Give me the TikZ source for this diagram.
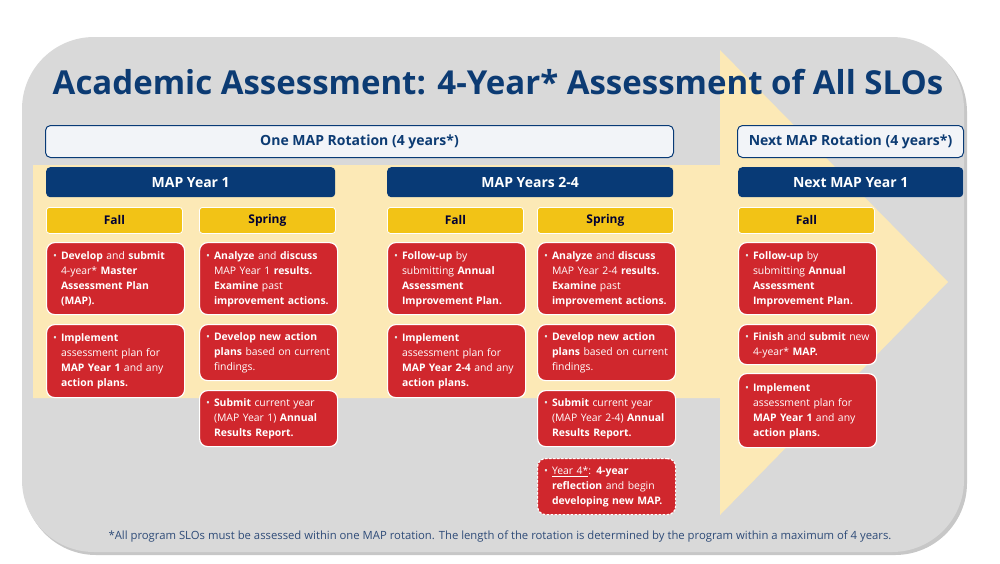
\documentclass[tikz,border=0pt]{standalone}
\usepackage{fontspec}
\setmainfont{Open Sans}
\usetikzlibrary{positioning}

\definecolor{bggray}{HTML}{D9D9D9}
\definecolor{arrowcream}{HTML}{FCE9B6}
\definecolor{mapnavy}{HTML}{083A76}
\definecolor{titleblue}{HTML}{0C3B73}
\definecolor{seasongold}{HTML}{F2C316}
\definecolor{taskred}{HTML}{D0272D}
\definecolor{rotfill}{HTML}{F2F4F8}
\definecolor{notegray}{HTML}{2E4B78}

% bullet line block
\newcommand{\bul}[1]{\begin{tabular}{@{}l@{\hspace{4pt}}l@{}}%
  \raisebox{0pt}[0pt][0pt]{\begin{tabular}[t]{@{}l@{}}{\color{white!80!gray}\textbullet}\end{tabular}}%
  &\begin{tabular}[t]{@{}l@{}}#1\end{tabular}\end{tabular}}

\tikzset{
  rotbox/.style={draw=mapnavy, line width=1pt, fill=rotfill, rounded corners=5pt,
    anchor=north west, minimum height=32pt, text=titleblue,
    font=\fontsize{14}{16}\selectfont\bfseries},
  yearbox/.style={fill=mapnavy, rounded corners=4pt, anchor=north west,
    minimum height=30pt, text=white, font=\fontsize{14}{16}\selectfont\bfseries},
  seasonbox/.style={fill=seasongold, draw=white, line width=0.8pt, rounded corners=3pt,
    anchor=north west, minimum width=136pt, minimum height=26pt, text=black!80!blue,
    font=\fontsize{12}{14}\selectfont\bfseries},
  redbox/.style={fill=taskred, draw=white, line width=1.2pt, rounded corners=8pt,
    anchor=north west, text width=125pt, inner xsep=6.5pt, inner ysep=2pt, align=left,
    text=white, font=\fontsize{10.4}{15}\selectfont},
  lastbox/.style={redbox, dashed, dash pattern=on 2.5pt off 1.5pt}
}

\begin{document}
\begin{tikzpicture}[x=1pt, y=-1pt]
\useasboundingbox (0,0) rectangle (1000,563);

%% background panel and arrow
\fill[black!22, rounded corners=72pt] (24,40) rectangle (967,555);
\fill[bggray, rounded corners=72pt] (22,37) rectangle (964,552);
\fill[arrowcream] (33,165) -- (720,165) -- (720,50) -- (948,282) -- (720,515)
  -- (720,398) -- (33,398) -- cycle;

\node[text=titleblue, font=\fontsize{33}{40}\selectfont\bfseries] (title) at (498,82)
  {Academic Assessment: 4-Year* Assessment of All SLOs};

%% rotations
\node[rotbox, minimum width=628pt] (rot) at (45,125) {One MAP Rotation (4 years*)};
\node[rotbox, minimum width=226pt] (nextrot) at (737,125) {Next MAP Rotation (4 years*)};

%% years
\node[yearbox, minimum width=289pt] (year1) at (46,167) {MAP Year 1};
\node[yearbox, minimum width=286pt] (year24) at (387,167) {MAP Years 2-4};
\node[yearbox, minimum width=225pt] (nextyear) at (738,167) {Next MAP Year 1};

%% seasons
\node[seasonbox] (fall1) at (46,207) {Fall};
\node[seasonbox] (spring1) at (199,207) {Spring};
\node[seasonbox] (fall24) at (387,207) {Fall};
\node[seasonbox] (spring24) at (537,207) {Spring};
\node[seasonbox] (nextfall) at (738,207) {Fall};

%% MAP Year 1, fall
\node[redbox, minimum height=72pt] (fall1a) at (46,242)
  {\bul{\textbf{Develop} and \textbf{submit}\\4-year* \textbf{Master}\\\textbf{Assessment Plan}\\\textbf{(MAP).}}};
\node[redbox, minimum height=73pt] (fall1b) at (46,324)
  {\bul{\textbf{Implement}\\assessment plan for\\\textbf{MAP Year 1} and any\\\textbf{action plans.}}};

%% MAP Year 1, spring
\node[redbox, minimum height=72pt] (spring1a) at (199,242)
  {\bul{\textbf{Analyze} and \textbf{discuss}\\MAP Year 1 \textbf{results.}\\\textbf{Examine} past\\\textbf{improvement actions.}}};
\node[redbox, minimum height=56pt] (spring1b) at (199,324)
  {\bul{\textbf{Develop new action}\\\textbf{plans} based on current\\findings.}};
\node[redbox, minimum height=56pt] (spring1c) at (199,390)
  {\bul{\textbf{Submit} current year\\(MAP Year 1) \textbf{Annual}\\\textbf{Results Report.}}};

%% MAP Years 2-4, fall
\node[redbox, minimum height=72pt] (fall24a) at (387,242)
  {\bul{\textbf{Follow-up} by\\submitting \textbf{Annual}\\\textbf{Assessment}\\\textbf{Improvement Plan.}}};
\node[redbox, minimum height=73pt] (fall24b) at (387,324)
  {\bul{\textbf{Implement}\\assessment plan for\\\textbf{MAP Year 2-4} and any\\\textbf{action plans.}}};

%% MAP Years 2-4, spring
\node[redbox, minimum height=72pt] (spring24a) at (537,242)
  {\bul{\textbf{Analyze} and \textbf{discuss}\\MAP Year 2-4 \textbf{results.}\\\textbf{Examine} past\\\textbf{improvement actions.}}};
\node[redbox, minimum height=56pt] (spring24b) at (537,324)
  {\bul{\textbf{Develop new action}\\\textbf{plans} based on current\\findings.}};
\node[redbox, minimum height=56pt] (spring24c) at (537,390)
  {\bul{\textbf{Submit} current year\\(MAP Year 2-4) \textbf{Annual}\\\textbf{Results Report.}}};
\node[lastbox, minimum height=56pt] (spring24d) at (537,458)
  {\bul{\underline{Year 4*}: \textbf{4-year}\\\textbf{reflection} and begin\\\textbf{developing new MAP.}}};

%% Next MAP Year 1, fall
\node[redbox, minimum height=72pt] (nextfalla) at (738,242)
  {\bul{\textbf{Follow-up} by\\submitting \textbf{Annual}\\\textbf{Assessment}\\\textbf{Improvement Plan.}}};
\node[redbox, minimum height=40pt] (nextfallb) at (738,324)
  {\bul{\textbf{Finish} and \textbf{submit} new\\4-year* \textbf{MAP.}}};
\node[redbox, minimum height=74pt] (nextfallc) at (738,373)
  {\bul{\textbf{Implement}\\assessment plan for\\\textbf{MAP Year 1} and any\\\textbf{action plans.}}};

\node[text=notegray, font=\fontsize{11.3}{12}\selectfont] (note) at (500,537)
  {*All program SLOs must be assessed within one MAP rotation. The length of the rotation is determined by the program within a maximum of 4 years.};

\end{tikzpicture}
\end{document}
